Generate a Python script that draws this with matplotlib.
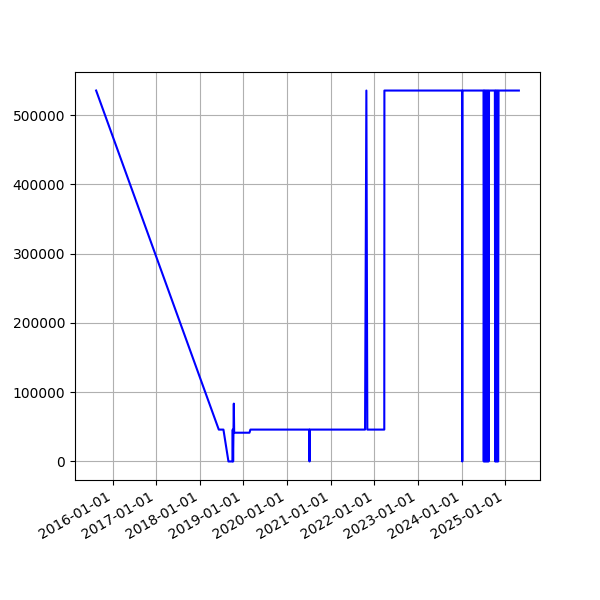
import numpy as np
import matplotlib
matplotlib.use("Agg")
import matplotlib.pyplot as plt
import matplotlib.dates as mdates

# values
dates = [
    "2015-08-16", "2018-06-08", "2018-07-17", "2018-08-28", "2018-09-30",
    "2018-10-03", "2018-10-06", "2018-10-12", "2018-10-15", "2019-02-20",
    "2019-02-28", "2020-07-05", "2020-07-07", "2020-07-09", "2021-10-15",
    "2021-10-26", "2021-11-03", "2022-03-25", "2022-03-26", "2024-01-05",
    "2024-01-07", "2024-01-09",
    "2024-07-03", "2024-07-05", "2024-07-09", "2024-07-13", "2024-07-17",
    "2024-07-21", "2024-07-25", "2024-07-29", "2024-08-02", "2024-08-06",
    "2024-08-10", "2024-08-14", "2024-08-18",
    "2024-10-06", "2024-10-09", "2024-10-13", "2024-10-17", "2024-10-21",
    "2024-10-25", "2024-10-29", "2024-11-02", "2024-11-06",
    "2025-04-25",
]
values = [
    535500, 46000, 46000, 0, 0,
    46000, 0, 83500, 41500, 41500,
    46000, 46000, 0, 46000, 46000,
    535500, 46000, 46000, 535500, 535500,
    0, 535500,
    535500, 0, 535500, 0, 535500,
    0, 535500, 0, 535500, 0,
    535500, 0, 535500,
    535500, 0, 535500, 0, 535500,
    0, 535500, 0, 535500,
    535500,
]

x = np.array(dates, dtype="datetime64[D]")

fig, ax = plt.subplots(figsize=(6, 6), dpi=100)
ax.plot(x, values, color="blue")
ax.xaxis.set_major_locator(mdates.YearLocator())
ax.xaxis.set_major_formatter(mdates.DateFormatter("%Y-%m-%d"))
ax.grid(True)
fig.autofmt_xdate()

fig.savefig("out.png")
